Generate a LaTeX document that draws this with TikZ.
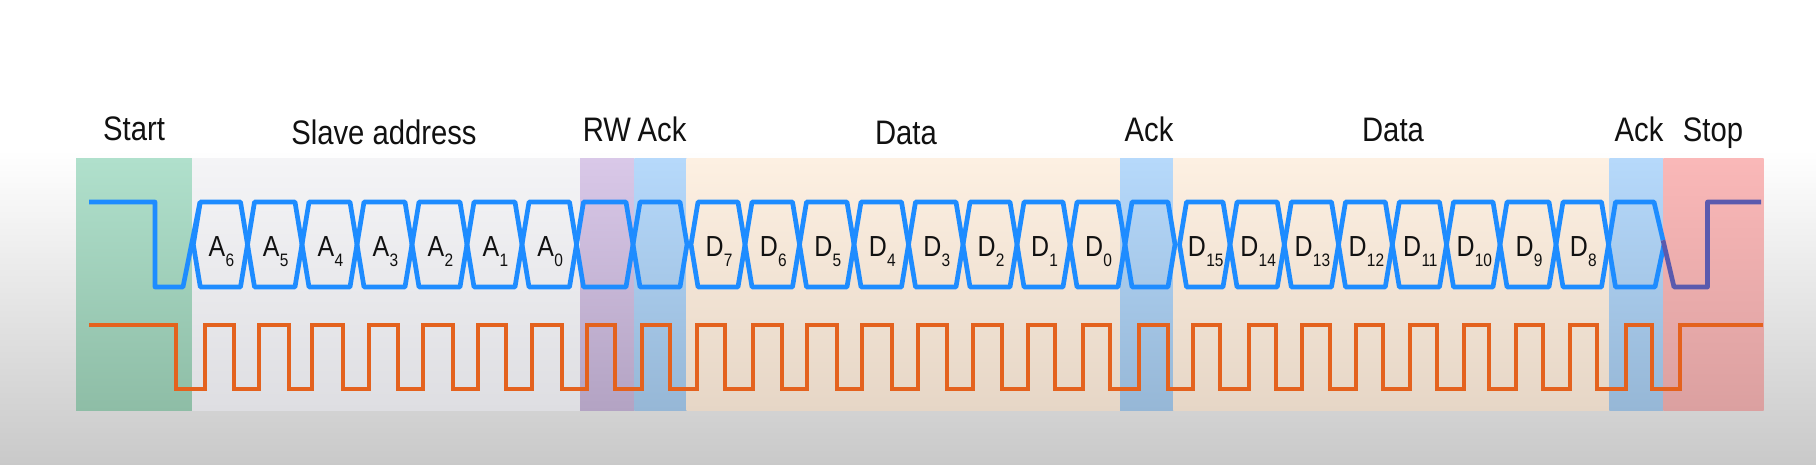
\documentclass[tikz,border=0pt]{standalone}
\usepackage{fontspec}
\setmainfont{Liberation Sans}[FakeStretch=0.86]
\definecolor{sdablue}{HTML}{1E8CFF}
\definecolor{sclorange}{HTML}{E4621E}
\definecolor{stopc}{HTML}{5A5AAE}
\definecolor{txt}{HTML}{111111}
\definecolor{bgmid}{HTML}{EBEBEB}
\definecolor{bgbot}{HTML}{C9C9C9}
\definecolor{grT}{HTML}{B0E0CC}\definecolor{grB}{HTML}{8EBDA6}
\definecolor{saT}{HTML}{F4F4F6}\definecolor{saB}{HTML}{DEDEE2}
\definecolor{rwT}{HTML}{D9C8E8}\definecolor{rwB}{HTML}{B3A3C3}
\definecolor{akT}{HTML}{B6D9FB}\definecolor{akB}{HTML}{96B7D6}
\definecolor{dtT}{HTML}{FDF0E2}\definecolor{dtB}{HTML}{E6D6C6}
\definecolor{spT}{HTML}{FAB8B8}\definecolor{spB}{HTML}{DBA0A0}
\newcommand\bitsym[2]{\fontsize{29}{29}\selectfont #1\kern0.3pt\raisebox{-9.5pt}{\fontsize{18}{18}\selectfont #2}}
\begin{document}
\begin{tikzpicture}[x=1pt,y=-1pt,
  sda/.style={draw=sdablue,line width=4.7pt,line join=round},
  scl/.style={draw=sclorange,line width=4pt,line join=miter},
  hdr/.style={anchor=base,font=\fontsize{34}{34}\selectfont,text=txt,inner sep=0pt},
  bitlbl/.style={anchor=base,text=txt,inner sep=0pt}]
\useasboundingbox (0,0) rectangle (1816,465);
\fill[white] (0,0) rectangle (1816,465);
\shade[top color=white, middle color=bgmid, bottom color=bgbot] (0,150) rectangle (1816,465);
% regions
\foreach \xa/\xb/\ct/\cb in {76/192/grT/grB, 192/580/saT/saB, 580/634.3/rwT/rwB,
  634.3/686.5/akT/akB, 686.5/1120/dtT/dtB, 1120/1173.3/akT/akB, 1173.3/1609.3/dtT/dtB,
  1609.3/1663.3/akT/akB, 1663.3/1763.7/spT/spB}
  \shade[top color=\ct, bottom color=\cb] (\xa,159) rectangle (\xb,410.7);
% headers
\node[hdr] (hStart) at (134,141) {Start};
\node[hdr] (hSlave) at (384,145) {Slave address};
\node[hdr] (hRW) at (607,141.5) {RW};
\node[hdr] (hAck1) at (662,141.5) {Ack};
\node[hdr] (hData1) at (906,145) {Data};
\node[hdr] (hAck2) at (1149,141.5) {Ack};
\node[hdr] (hData2) at (1393,142) {Data};
\node[hdr] (hAck3) at (1639,142) {Ack};
\node[hdr] (hStop) at (1713,142) {Stop};
% SDA
\draw[sda] (89,202) -- (155,202) -- (155,287) -- (183,287) -- (200,202);
\foreach \a/\b in {193.3/247.5, 247.5/302, 302/357, 357/412, 412/467, 467/522, 522/576.5, 576.5/633, 633/687,
  691/745, 745/799.5, 799.5/854, 854/908.5, 908.5/963, 963/1017, 1017/1070, 1070/1125, 1125/1175,
  1179.5/1230, 1230/1284.3, 1284.3/1338.5, 1338.5/1392.3, 1392.3/1446.5, 1446.5/1500, 1500/1556, 1556/1608.5}
  \draw[sda] (\a,244.5) -- (\a+7,202) -- (\b-7,202) -- (\b,244.5) -- (\b-7,287) -- (\a+7,287) -- cycle;
\draw[sda] (1664,244.5) -- (1655,287) -- (1615.5,287) -- (1608.5,244.5) -- (1615.5,202) -- (1654,202) -- (1663,240.25);
\draw[sda,draw=stopc] (1663,240.25) -- (1674,287) -- (1707.5,287) -- (1707.5,202) -- (1761,202);
% bit labels
\foreach \a/\b/\s/\n [count=\i] in {193.3/247.5/A/6, 247.5/302/A/5, 302/357/A/4, 357/412/A/3, 412/467/A/2, 467/522/A/1, 522/576.5/A/0,
  691/745/D/7, 745/799.5/D/6, 799.5/854/D/5, 854/908.5/D/4, 908.5/963/D/3, 963/1017/D/2, 1017/1070/D/1, 1070/1125/D/0,
  1179.5/1230/D/15, 1230/1284.3/D/14, 1284.3/1338.5/D/13, 1338.5/1392.3/D/12, 1392.3/1446.5/D/11, 1446.5/1500/D/10, 1500/1556/D/9, 1556/1608.5/D/8}
  \node[bitlbl] (bit\i) at ({(\a+\b)/2+1},257) {\bitsym{\s}{\n}};
% SCL
\draw[scl] (89,325) -- (176,325) -- (176,389)
  foreach \r/\f in {205/234, 259/289.3, 312.3/342.7, 369/398.3, 423.3/452.7, 478.3/506, 531.7/561.7,
    586.7/615, 641.7/670, 696.7/725, 753.3/781.7, 806.7/836.7, 861.7/891.7, 918.3/946.7, 973.3/1001.7,
    1028.3/1055, 1083.3/1110, 1139/1167.7, 1193.3/1220, 1249.3/1276, 1301.7/1330, 1356/1383.3,
    1410.3/1436.7, 1463.7/1489.3, 1516/1543.3, 1570.3/1597, 1626/1652}
  { -- (\r,389) -- (\r,325) -- (\f,325) -- (\f,389) }
  -- (1680,389) -- (1680,325) -- (1763,325);
\end{tikzpicture}
\end{document}
